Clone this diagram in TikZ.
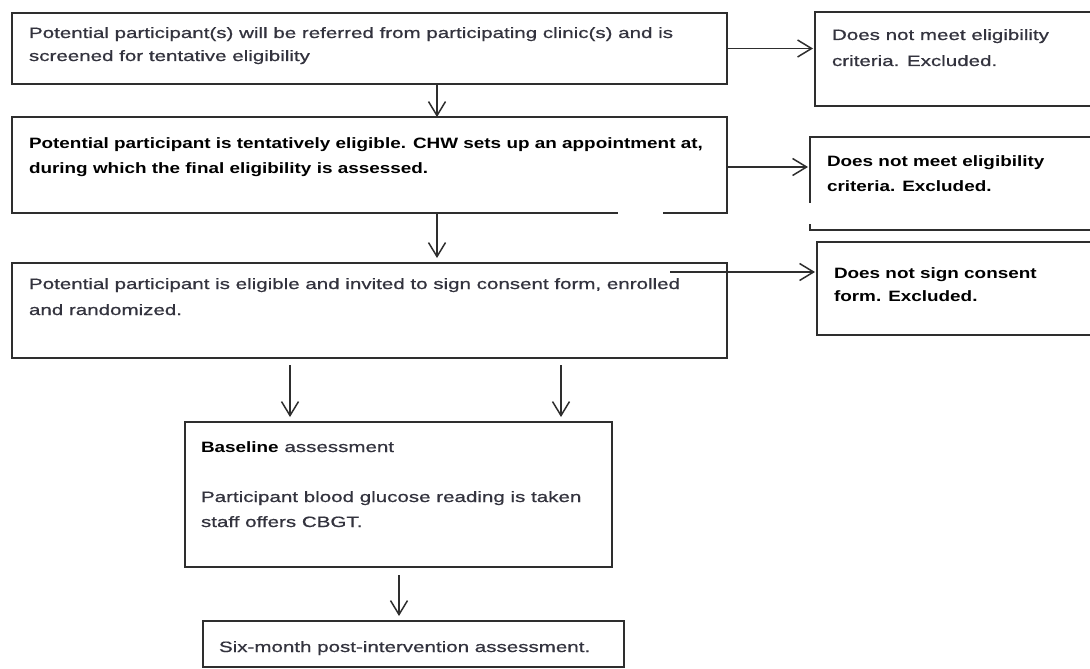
\documentclass[tikz,border=0pt]{standalone}
\usepackage{fontspec}
\setmainfont{Liberation Sans}[FakeStretch=1.37, FakeBold=0.7]
\newfontfamily\boldf{Liberation Sans}[FakeStretch=1.26]
\usetikzlibrary{arrows.meta}
\definecolor{edge}{HTML}{2E2E2E}
\definecolor{txt}{HTML}{33333E}
\tikzset{
  box/.style={draw=edge, line width=1.8pt, inner sep=0pt, outer sep=0pt, anchor=north west},
  arr/.style={draw=edge, line width=1.5pt, -{Straight Barb[length=14pt,width=17pt,line width=1.5pt]}},
  lbl/.style={anchor=base west, inner sep=0pt, outer sep=0pt, text=txt},
  blbl/.style={lbl, text=black},
}
\newcommand{\regtext}[3]{\parbox[t]{#1}{\fontsize{15}{#2}\selectfont #3}}
\newcommand{\boldtext}[3]{\parbox[t]{#1}{\boldf\bfseries\fontsize{15}{#2}\selectfont #3}}
\begin{document}
\begin{tikzpicture}[x=1pt,y=-1pt]
\fill[white] (0,0) rectangle (1090,669);
\clip (0,0) rectangle (1090,669);
% boxes
\node[box, minimum width=715pt, minimum height=71pt] (b1) at (12,13) {};
\node[box, minimum width=715pt, minimum height=96pt] (b2) at (12,117) {};
\node[box, minimum width=715pt, minimum height=95pt] (b3) at (12,263) {};
\node[box, minimum width=300pt, minimum height=94pt] (r1) at (815,12) {};
\node[box, minimum width=300pt, minimum height=93pt] (r2) at (810,137) {};
\node[box, minimum width=300pt, minimum height=93pt] (r3) at (817,242) {};
\node[box, minimum width=427pt, minimum height=145pt] (bl) at (185,422) {};
\node[box, minimum width=421pt, minimum height=46pt] (sm) at (203,621) {};
% scan gaps
\draw[white, line width=3pt] (618,213) -- (663,213);
\draw[white, line width=3pt] (810,203) -- (810,224);
% texts
\node[lbl] (t1) at (29,38) {\regtext{690pt}{23pt}{Potential participant(s) will be referred from participating clinic(s) and is\\screened for tentative eligibility}};
\node[blbl] (t2) at (29,148) {\boldtext{700pt}{25pt}{Potential participant is tentatively eligible. CHW sets up an appointment at,\\during which the final eligibility is assessed.}};
\node[lbl] (t3) at (29,289) {\regtext{690pt}{26pt}{Potential participant is eligible and invited to sign consent form, enrolled\\and randomized.}};
\node[lbl] (u1) at (832,40) {\regtext{250pt}{26pt}{Does not meet eligibility\\criteria. Excluded.}};
\node[blbl] (u2) at (827,166) {\boldtext{250pt}{25pt}{Does not meet eligibility\\criteria. Excluded.}};
\node[blbl] (u3) at (834,278) {\boldtext{250pt}{23pt}{Does not sign consent\\form. Excluded.}};
\node[lbl] (t4) at (201,452) {\fontsize{15}{18pt}\selectfont{\boldf\bfseries\color{black}Baseline} assessment};
\node[lbl] (t5) at (201,502) {\regtext{400pt}{25pt}{Participant blood glucose reading is taken\\staff offers CBGT.}};
\node[lbl] (t6) at (219,652) {\fontsize{15}{18pt}\selectfont Six-month post-intervention assessment.};
% connectors
\draw[arr, shorten >=2pt] (b1.east) -- (b1.east -| r1.west);
\draw[arr, shorten >=2pt] ([yshift=-2pt]b2.east) -- ([yshift=-2pt]b2.east -| r2.west);
\coordinate (c3) at (670,272);
\draw[arr, shorten >=2pt] (c3) -- (c3 -| r3.west);
\draw[arr] ([xshift=67.5pt]b1.south) -- ([xshift=67.5pt]b2.north);
\draw[arr, shorten >=5pt] ([xshift=67.5pt]b2.south) -- ([xshift=67.5pt]b3.north);
\draw[arr, shorten <=7pt, shorten >=5pt] ([xshift=-79.5pt]b3.south) -- ([xshift=-108.5pt]bl.north);
\draw[arr, shorten <=7pt, shorten >=5pt] ([xshift=191.5pt]b3.south) -- ([xshift=162.5pt]bl.north);
\draw[arr, shorten <=8pt, shorten >=5pt] ([xshift=0.5pt]bl.south) -- ([xshift=-14.5pt]sm.north);
\end{tikzpicture}
\end{document}
